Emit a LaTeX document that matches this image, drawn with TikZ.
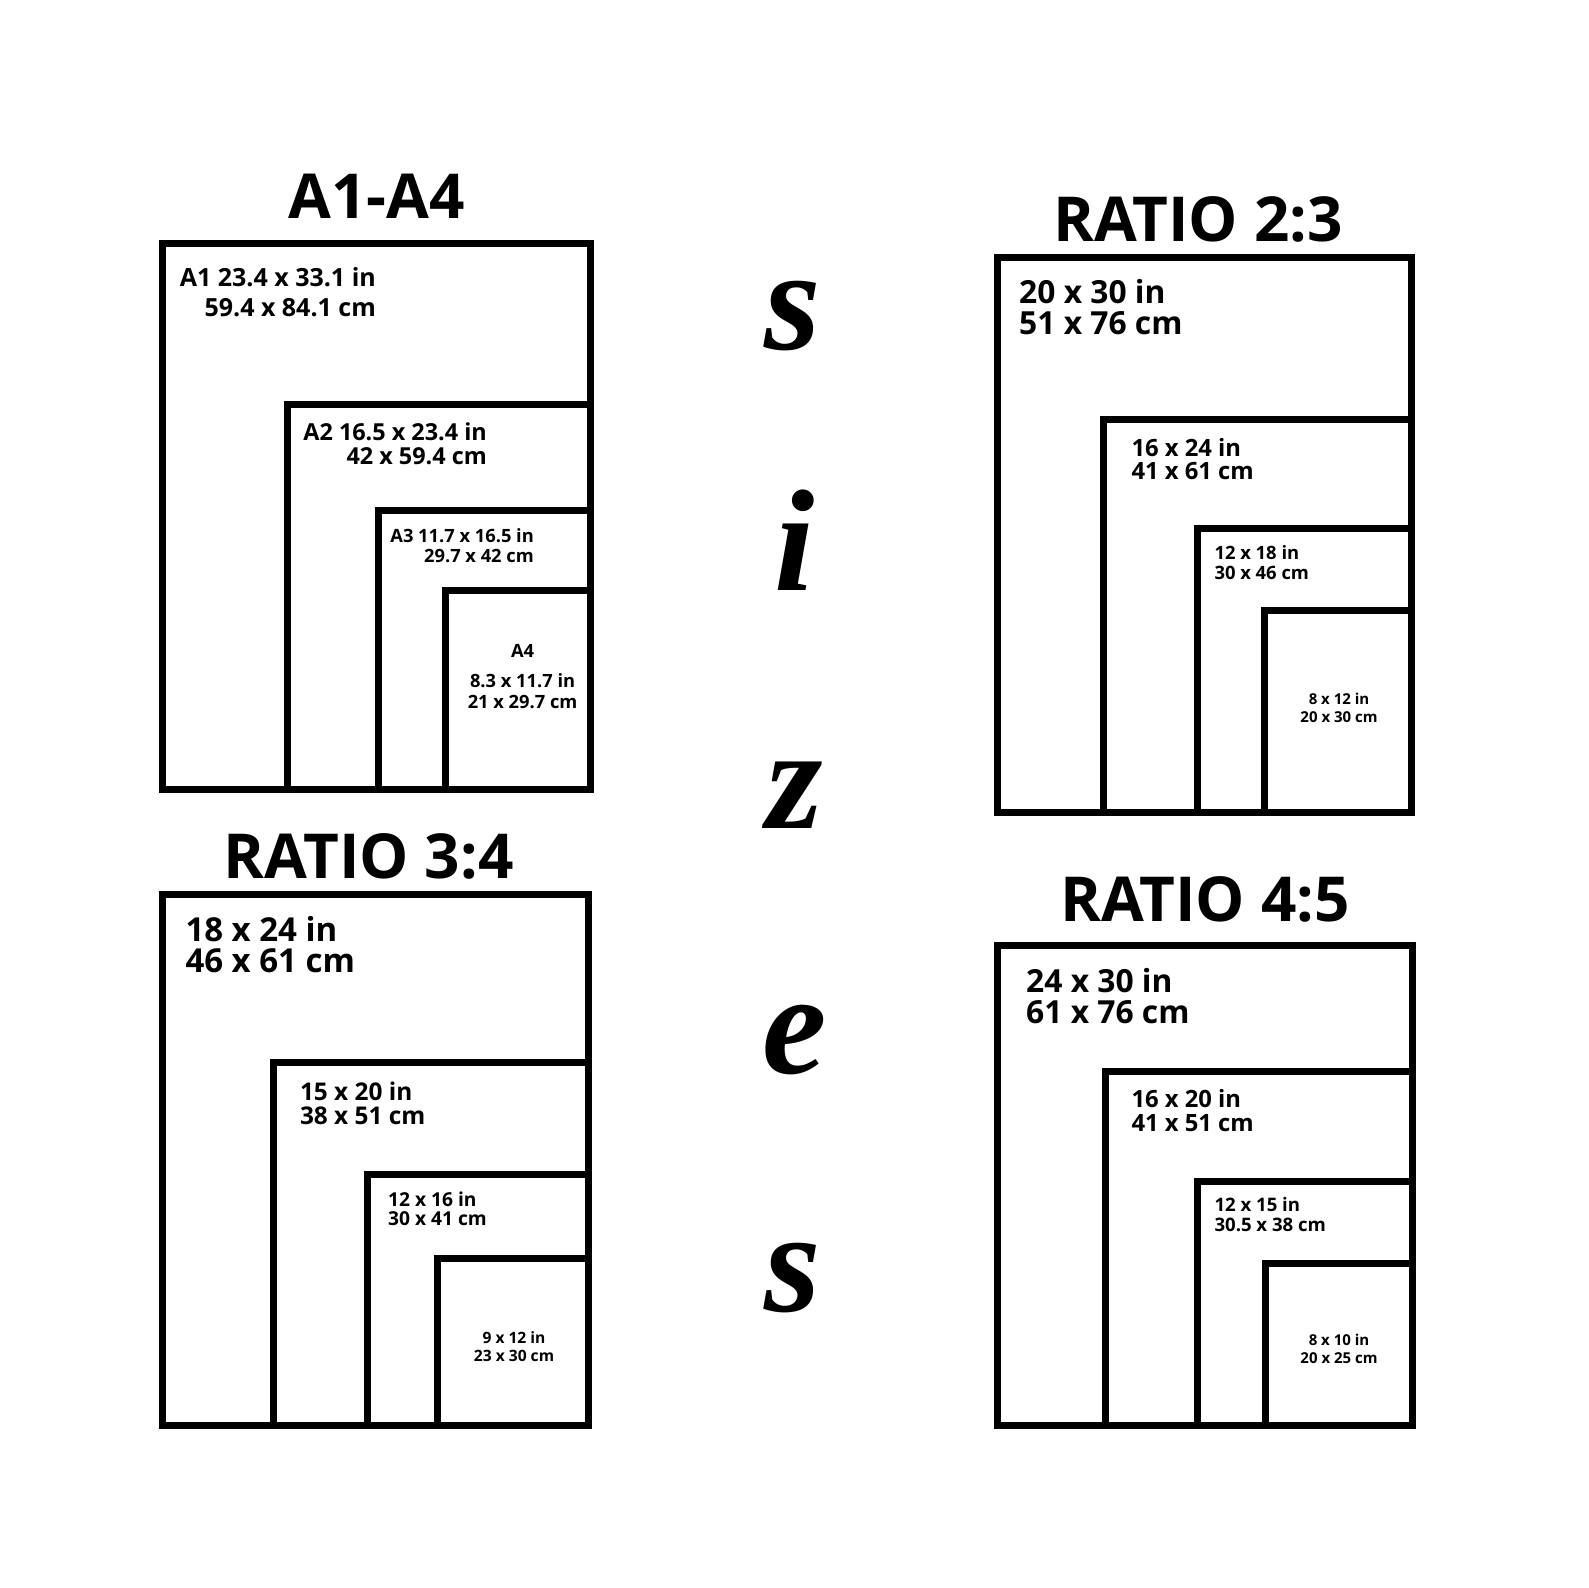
\documentclass[tikz,border=0pt]{standalone}
\usepackage{fontspec}
\setmainfont{Open Sans}
\newfontfamily\brushfont{Liberation Serif}
\usetikzlibrary{positioning}
\tikzset{
  frame line/.style={draw,line width=7pt,line join=miter},
  panel title/.style={font=\fontsize{62}{62}\selectfont\bfseries,inner sep=0pt},
  size label/.style 2 args={font=\fontsize{#1}{#2}\selectfont\bfseries,inner sep=0pt},
  brush letter/.style={font=\brushfont\fontsize{145}{145}\selectfont\bfseries\itshape,inner sep=0pt},
}

\begin{document}
\begin{tikzpicture}[x=1pt,y=-1pt]
  \useasboundingbox[fill=white] (0,0) rectangle (1588,1588);

  % A1-A4
  \node[panel title] (tA) at (376.5,196) {A1-A4};
  \draw[frame line] (162,243) rectangle (590.5,789);
  \draw[frame line] (287.6,404) rectangle (590.5,789);
  \draw[frame line] (378.8,510.5) rectangle (590.5,789);
  \draw[frame line] (445.6,590.5) rectangle (590.5,789);
  \node[size label={25}{30},align=right,anchor=east] (a1) at (376,292) {A1 23.4 x 33.1 in\\59.4 x 84.1 cm};
  \node[size label={23.4}{24.5},align=right,anchor=east] (a2) at (487,444) {A2 16.5 x 23.4 in\\42 x 59.4 cm};
  \node[size label={18.3}{19.5},align=right,anchor=east] (a3) at (534,545.5) {A3 11.7 x 16.5 in\\29.7 x 42 cm};
  \node[size label={18.3}{21.5},align=center] (a4) at (522.6,677) {A4\\[8pt]8.3 x 11.7 in\\21 x 29.7 cm};

  % ratio 2:3
  \node[panel title] (tB) at (1198,219) {RATIO 2:3};
  \draw[frame line] (997.6,257) rectangle (1411.8,812);
  \draw[frame line] (1103,419) rectangle (1411.8,812);
  \draw[frame line] (1197,528.7) rectangle (1411.8,812);
  \draw[frame line] (1264,610.7) rectangle (1411.8,812);
  \node[size label={31.8}{30.5},align=left,anchor=west] (b1) at (1019,307) {20 x 30 in\\51 x 76 cm};
  \node[size label={23.8}{23.3},align=left,anchor=west] (b2) at (1131.3,459.3) {16 x 24 in\\41 x 61 cm};
  \node[size label={18.4}{19.2},align=left,anchor=west] (b3) at (1214.3,562.6) {12 x 18 in\\30 x 46 cm};
  \node[size label={15}{18.2},align=center] (b4) at (1339,708) {8 x 12 in\\20 x 30 cm};

  % ratio 3:4
  \node[panel title] (tC) at (368.6,856) {RATIO 3:4};
  \draw[frame line] (162,894) rectangle (588.4,1425);
  \draw[frame line] (273.5,1062.5) rectangle (588.4,1425);
  \draw[frame line] (367.6,1174) rectangle (588.4,1425);
  \draw[frame line] (437.5,1258) rectangle (588.4,1425);
  \node[size label={33}{31},align=left,anchor=west] (c1) at (185.3,944.4) {18 x 24 in\\46 x 61 cm};
  \node[size label={24.4}{24},align=left,anchor=west] (c2) at (299.8,1103) {15 x 20 in\\38 x 51 cm};
  \node[size label={19.2}{19.5},align=left,anchor=west] (c3) at (387.9,1208.8) {12 x 16 in\\30 x 41 cm};
  \node[size label={15.6}{18.2},align=center] (c4) at (514,1347) {9 x 12 in\\23 x 30 cm};

  % ratio 4:5
  \node[panel title] (tD) at (1205,899) {RATIO 4:5};
  \draw[frame line] (997.6,945) rectangle (1412.9,1425);
  \draw[frame line] (1105,1071.5) rectangle (1412.9,1425);
  \draw[frame line] (1197,1181) rectangle (1412.9,1425);
  \draw[frame line] (1265,1263) rectangle (1412.9,1425);
  \node[size label={31.8}{31},align=left,anchor=west] (d1) at (1026,996.1) {24 x 30 in\\61 x 76 cm};
  \node[size label={23.8}{23.3},align=left,anchor=west] (d2) at (1131.3,1110.5) {16 x 20 in\\41 x 51 cm};
  \node[size label={18.6}{20},align=left,anchor=west] (d3) at (1214.3,1214.4) {12 x 15 in\\30.5 x 38 cm};
  \node[size label={15}{18.2},align=center] (d4) at (1339,1349) {8 x 10 in\\20 x 25 cm};

  % sizes, down the middle
  \node[brush letter] (s1) at (793,316) {s};
  \node[brush letter] (i1) at (795,540) {i};
  \node[brush letter] (z1) at (795,795) {z};
  \node[brush letter] (e1) at (795,1040) {e};
  \node[brush letter] (s2) at (793,1278) {s};
\end{tikzpicture}
\end{document}
